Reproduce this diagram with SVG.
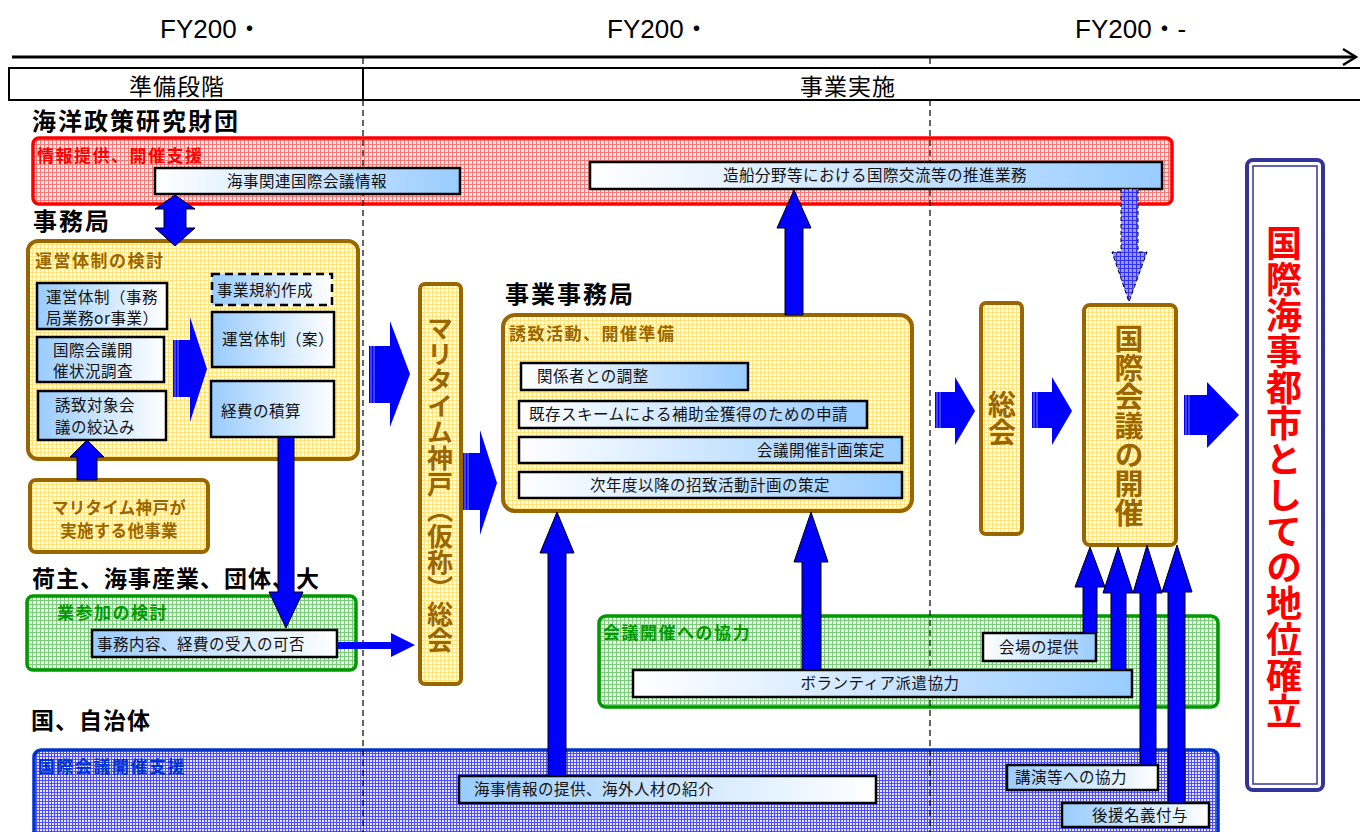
<svg xmlns="http://www.w3.org/2000/svg" width="1360" height="832" viewBox="0 0 1360 832">
<defs>
<style>
.fy{font-family:"Liberation Sans","Noto Sans CJK JP",sans-serif;font-size:26px;fill:#000}
.lane{font-family:"Noto Sans CJK JP",sans-serif;font-size:24px;font-weight:bold;fill:#000;letter-spacing:2px}
.lane2{font-family:"Noto Sans CJK JP",sans-serif;font-size:23px;font-weight:bold;fill:#000;letter-spacing:1px}
.band{font-family:"Noto Sans CJK JP",sans-serif;font-size:23px;fill:#000;letter-spacing:1px}
.t{font-family:"Noto Sans CJK JP",sans-serif;font-size:15.5px;fill:#111;letter-spacing:0.5px}
.ttl{font-family:"Noto Sans CJK JP",sans-serif;font-size:17px;font-weight:bold;letter-spacing:1.5px}
.box{stroke:#000;stroke-width:2.5}
.yel{fill:url(#pY);stroke:#996600;stroke-width:4}
.vt{font-family:"Noto Sans CJK JP",sans-serif;font-weight:bold;writing-mode:vertical-rl;text-anchor:middle}
.ra{fill:#0000ff}
.ua{fill:#0000ff;stroke:#000;stroke-width:1}
.stripe{stroke:#8080ff;stroke-width:1}
.dash{stroke:#000;stroke-width:1.2;stroke-dasharray:6 4;fill:none}
</style>
<pattern id="pR" width="4" height="4" patternUnits="userSpaceOnUse"><rect width="4" height="4" fill="#ffe8e8"/><path d="M0 .5H4M.5 0V4" stroke="#f47a7a" stroke-width="1"/></pattern>
<pattern id="pY" width="4" height="4" patternUnits="userSpaceOnUse"><rect width="4" height="4" fill="#fffff0"/><path d="M0 .5H4M.5 0V4" stroke="#ffe27a" stroke-width="1"/></pattern>
<pattern id="pG" width="4" height="4" patternUnits="userSpaceOnUse"><rect width="4" height="4" fill="#eefaee"/><path d="M0 .5H4M.5 0V4" stroke="#7acc7a" stroke-width="1"/></pattern>
<pattern id="pB" width="3" height="3" patternUnits="userSpaceOnUse"><rect width="3" height="3" fill="#e6e6ff"/><path d="M0 .5H3M.5 0V3" stroke="#4d4dff" stroke-width="1"/></pattern>
<pattern id="pA" width="4" height="4" patternUnits="userSpaceOnUse"><rect width="4" height="4" fill="#9999ff"/><path d="M0 .5H4M.5 0V4" stroke="#3333ee" stroke-width="1"/></pattern>
<linearGradient id="gBW" x1="0" y1="0" x2="1" y2="0"><stop offset="0" stop-color="#99ccff"/><stop offset="1" stop-color="#ffffff"/></linearGradient>
<linearGradient id="gWB" x1="0" y1="0" x2="1" y2="0"><stop offset="0" stop-color="#ffffff"/><stop offset="1" stop-color="#99ccff"/></linearGradient>
</defs>
<rect width="1360" height="832" fill="#fff"/>

<g id="timeline">
<text class="fy" x="160" y="38">FY200・</text>
<text class="fy" x="607" y="38">FY200・</text>
<text class="fy" x="1075" y="38">FY200・-</text>
<line x1="12" y1="57" x2="1355" y2="57" stroke="#000" stroke-width="3"/>
<polyline points="1343,49 1356,57 1343,65" fill="none" stroke="#000" stroke-width="2.5"/>
<line x1="8" y1="68" x2="1360" y2="68" stroke="#000" stroke-width="2"/>
<line x1="8" y1="100" x2="1360" y2="100" stroke="#000" stroke-width="2"/>
<line x1="9" y1="68" x2="9" y2="100" stroke="#000" stroke-width="2"/>
<line x1="363" y1="68" x2="363" y2="100" stroke="#000" stroke-width="2"/>
<text class="band" x="177" y="95" text-anchor="middle">準備段階</text>
<text class="band" x="848" y="95" text-anchor="middle">事業実施</text>
</g>

<g id="lanes">
<text class="lane" x="32" y="130">海洋政策研究財団</text>
<text class="lane" x="33" y="230">事務局</text>
<text class="lane" x="505" y="303">事業事務局</text>
<text class="lane2" x="32" y="587">荷主、海事産業、団体、大</text>
<text class="lane2" x="32" y="620">学</text>
<text class="lane2" x="31" y="729">国、自治体</text>
</g>

<g id="zaidan">
<rect x="33" y="138" width="1139" height="66" rx="6" fill="url(#pR)" stroke="#ff0000" stroke-width="3.5"/>
<text class="ttl" x="37" y="162" fill="#ff0000">情報提供、開催支援</text>
</g>
<g id="unei-kento">
<rect class="yel" x="28" y="241" width="330" height="218" rx="10"/>
<text class="ttl" x="35" y="267" fill="#996600">運営体制の検討</text>
</g>
<g id="tajigyo">
<rect class="yel" x="30" y="480" width="178" height="72" rx="6"/>
<text class="ttl" x="119" y="514" fill="#996600" text-anchor="middle" style="font-size:16.5px;letter-spacing:0.3px">マリタイム神戸が</text>
<text class="ttl" x="119" y="537" fill="#996600" text-anchor="middle" style="font-size:16.5px;letter-spacing:0.3px">実施する他事業</text>
</g>
<g id="kigyo">
<rect x="27" y="596" width="329" height="74" rx="6" fill="url(#pG)" stroke="#009900" stroke-width="3.5"/>
<text class="ttl" x="57" y="619" fill="#009900">業参加の検討</text>
</g>
<g id="soukai-kari">
<rect class="yel" x="420" y="284" width="41" height="400" rx="5"/>
<text class="vt" x="440" y="484" fill="#996600" style="font-size:26px">マリタイム神戸（仮称）総会</text>
</g>
<g id="yuchi">
<rect class="yel" x="503" y="315" width="409" height="196" rx="12"/>
<text class="ttl" x="509" y="340" fill="#996600">誘致活動、開催準備</text>
</g>
<g id="soukai">
<rect class="yel" x="981" y="303" width="41" height="231" rx="5"/>
<text class="vt" x="1002" y="418" fill="#996600" style="font-size:28px">総会</text>
</g>
<g id="kaisai">
<rect class="yel" x="1084" y="305" width="92" height="240" rx="6"/>
<text class="vt" x="1129" y="426" fill="#996600" style="font-size:29px">国際会議の開催</text>
</g>
<g id="kyoryoku">
<rect x="599" y="616" width="619" height="91" rx="7" fill="url(#pG)" stroke="#009900" stroke-width="3.5"/>
<text class="ttl" x="603" y="639" fill="#009900">会議開催への協力</text>
</g>
<g id="shien">
<rect x="34" y="750" width="1184" height="100" rx="7" fill="url(#pB)" stroke="#0033cc" stroke-width="3.5"/>
<text class="ttl" x="38" y="773" fill="#0033cc">国際会議開催支援</text>
</g>
<g id="goal">
<rect x="1247" y="160" width="76" height="630" rx="6" fill="#fff" stroke="#333399" stroke-width="4"/>
<rect x="1253" y="166" width="64" height="618" fill="none" stroke="#333399" stroke-width="1.5"/>
<text class="vt" x="1284" y="477" fill="#ff0000" style="font-size:36px">国際海事都市としての地位確立</text>
</g>

<g id="grid">
<line class="dash" x1="363" y1="58" x2="363" y2="68"/>
<line class="dash" x1="363" y1="100" x2="363" y2="832"/>
<line class="dash" x1="930" y1="58" x2="930" y2="68"/>
<line class="dash" x1="930" y1="100" x2="930" y2="832"/>
</g>

<g id="n-kaiji-info"><rect class="box" x="155" y="168" width="305" height="26" fill="url(#gWB)"/><text class="t" x="307" y="187" text-anchor="middle">海事関連国際会議情報</text></g>
<g id="n-zousen"><rect class="box" x="590" y="162" width="572" height="27" fill="url(#gWB)"/><text class="t" x="875" y="181" text-anchor="middle">造船分野等における国際交流等の推進業務</text></g>
<g id="n-unei1"><rect class="box" x="37" y="283" width="130" height="46" fill="url(#gBW)"/><text class="t" x="46" y="303">運営体制（事務</text><text class="t" x="46" y="324">局業務or事業）</text></g>
<g id="n-chosa"><rect class="box" x="37" y="337" width="127" height="45" fill="url(#gBW)"/><text class="t" x="53" y="356">国際会議開</text><text class="t" x="53" y="377">催状況調査</text></g>
<g id="n-shiborikomi"><rect class="box" x="38" y="391" width="128" height="49" fill="url(#gBW)"/><text class="t" x="55" y="411">誘致対象会</text><text class="t" x="55" y="433">議の絞込み</text></g>
<g id="n-kiyaku"><rect x="212" y="274" width="120" height="31" fill="url(#gBW)" stroke="#000" stroke-width="2.5" stroke-dasharray="8 5"/><text class="t" x="217" y="296">事業規約作成</text></g>
<g id="n-unei-an"><rect class="box" x="212" y="312" width="122" height="55" fill="url(#gBW)"/><text class="t" x="222" y="345">運営体制（案）</text></g>
<g id="n-keihi"><rect class="box" x="211" y="381" width="123" height="56" fill="url(#gBW)"/><text class="t" x="221" y="417">経費の積算</text></g>
<g id="n-kanousei"><rect class="box" x="92" y="630" width="245" height="27" fill="url(#gBW)"/><text class="t" x="97" y="650">事務内容、経費の受入の可否</text></g>
<g id="n-chosei"><rect class="box" x="521" y="363" width="227" height="27" fill="url(#gWB)"/><text class="t" x="537" y="382">関係者との調整</text></g>
<g id="n-shinsei"><rect class="box" x="519" y="401" width="348" height="27" fill="url(#gWB)"/><text class="t" x="529" y="420">既存スキームによる補助金獲得のための申請</text></g>
<g id="n-keikaku"><rect class="box" x="519" y="437" width="383" height="26" fill="url(#gWB)"/><text class="t" x="885" y="456" text-anchor="end">会議開催計画策定</text></g>
<g id="n-jinendo"><rect class="box" x="519" y="472" width="383" height="26" fill="url(#gWB)"/><text class="t" x="710" y="491" text-anchor="middle">次年度以降の招致活動計画の策定</text></g>
<g id="n-kaijo"><rect class="box" x="983" y="633" width="113" height="28" fill="url(#gWB)"/><text class="t" x="1039" y="653" text-anchor="middle">会場の提供</text></g>
<g id="n-volunteer"><rect class="box" x="633" y="670" width="499" height="27" fill="url(#gWB)"/><text class="t" x="880" y="689" text-anchor="middle">ボランティア派遣協力</text></g>
<g id="n-jinzai"><rect class="box" x="459" y="776" width="417" height="27" fill="url(#gBW)"/><text class="t" x="474" y="795">海事情報の提供、海外人材の紹介</text></g>
<g id="n-koen"><rect class="box" x="1007" y="765" width="151" height="25" fill="url(#gBW)"/><text class="t" x="1015" y="783">講演等への協力</text></g>
<g id="n-koen-meigi"><rect class="box" x="1062" y="803" width="147" height="24" fill="url(#gBW)"/><text class="t" x="1092" y="821">後援名義付与</text></g>

<g id="connectors">
<path class="ua" d="M175,195 L195,209 H186 V228 H195 L175,246 L155,228 H164 V209 H155 Z"/>
<path class="ra" d="M173,340 H190 V317 L207,369 L190,422 V397 H173 Z"/>
<line class="stripe" x1="175" y1="340" x2="175" y2="397"/><line class="stripe" x1="178" y1="340" x2="178" y2="397"/>
<path class="ra" d="M369,346 H390 V321 L410,374 L390,427 V403 H369 Z"/>
<line class="stripe" x1="371" y1="346" x2="371" y2="403"/><line class="stripe" x1="374" y1="346" x2="374" y2="403"/>
<path class="ra" d="M463,453 H480 V430 L497,483 L480,535 V510 H463 Z"/>
<line class="stripe" x1="465" y1="453" x2="465" y2="510"/><line class="stripe" x1="468" y1="453" x2="468" y2="510"/>
<path class="ra" d="M935,392 H955 V377 L975,411 L955,445 V428 H935 Z"/>
<line class="stripe" x1="937" y1="392" x2="937" y2="428"/><line class="stripe" x1="940" y1="392" x2="940" y2="428"/>
<path class="ra" d="M1032,392 H1052 V377 L1072,411 L1052,445 V428 H1032 Z"/>
<line class="stripe" x1="1034" y1="392" x2="1034" y2="428"/><line class="stripe" x1="1037" y1="392" x2="1037" y2="428"/>
<path class="ra" d="M1184,395 H1207 V382 L1239,415 L1207,448 V435 H1184 Z"/>
<line class="stripe" x1="1186" y1="395" x2="1186" y2="435"/><line class="stripe" x1="1189" y1="395" x2="1189" y2="435"/>
<path class="ra" d="M337,642 H391 V633 L415,645 L391,657 V649 H337 Z"/>
<path class="ua" d="M785,315 V228 H777 L794,190 L811,228 H803 V315 Z"/>
<path class="ua" d="M548,776 V553 H540 L557,512 L574,553 H566 V776 Z"/>
<path class="ua" d="M802,670 V562 H794 L811,512 L828,562 H821 V670 Z"/>
<path class="ua" d="M77,480 V457 H70 L87,440 L104,457 H97 V480 Z"/>
<path class="ua" d="M278,437 V592 H269 L286,628 L303,592 H294 V437 Z"/>
<path d="M1121,189 V252 H1112 L1129,302 L1147,252 H1138 V189 Z" fill="url(#pA)" stroke="#000" stroke-width="1" stroke-dasharray="4 3"/>
<path class="ua" d="M1083,633 V587 H1075 L1090,547 L1105,587 H1097 V633 Z"/>
<path class="ua" d="M1111,670 V593 H1103 L1118,547 L1133,593 H1126 V670 Z"/>
<path class="ua" d="M1140,765 V593 H1133 L1147,545 L1162,593 H1156 V765 Z"/>
<path class="ua" d="M1168,803 V592 H1162 L1177,545 L1192,592 H1185 V803 Z"/>
</g>
</svg>
